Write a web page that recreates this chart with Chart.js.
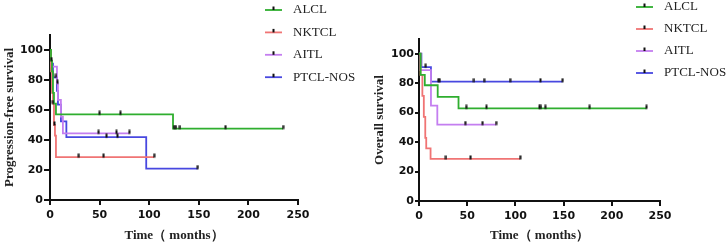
<!DOCTYPE html>
<html>
<head>
<meta charset="utf-8">
<script src="https://cdn.jsdelivr.net/npm/chart.js@4.4.1/dist/chart.umd.min.js"></script>
<style>
  html, body { margin: 0; padding: 0; background: #fff; }
  #wrap { position: relative; width: 728px; height: 245px; }
  canvas { position: absolute; top: 0; }
</style>
</head>
<body>
<div id="wrap">
  <canvas id="pfs" width="364" height="245" style="left:0"></canvas>
  <canvas id="os" width="364" height="245" style="left:364px"></canvas>
</div>
<script>
// groups and colours
const groups = ['ALCL', 'NKTCL', 'AITL', 'PTCL-NOS'];
const colors = ['#2fae2f', '#f07474', '#c47ef0', '#4848e0'];

const xTicks = [0, 50, 100, 150, 200, 250];
const yTicks = [0, 20, 40, 60, 80, 100];

// progression-free survival: event times (months), survival (%), censored times
const pfsAlclT = [0, 1, 2, 3, 4, 6, 124, 235];
const pfsAlclS = [100, 92.9, 85.7, 71.4, 64.3, 57.1, 47.6, 47.6];
const pfsAlclC = [1.5, 50, 71, 125, 127, 131, 177, 235];

const pfsNkT = [0, 1, 2, 3, 4, 5, 6, 105];
const pfsNkS = [100, 85.7, 71.4, 64.3, 50, 42.9, 28.6, 28.6];
const pfsNkC = [3, 4.5, 29, 54, 105];

const pfsAitlT = [0, 1, 7, 8, 11, 13, 80];
const pfsAitlS = [100, 88.9, 77.8, 66.7, 55.6, 44.4, 44.4];
const pfsAitlC = [7.5, 49, 67, 80];

const pfsNosT = [0, 1, 3, 7, 8, 11, 16.5, 97, 149];
const pfsNosS = [100, 90.9, 81.8, 72.7, 63.6, 52.4, 41.9, 20.9, 20.9];
const pfsNosC = [6, 57, 68, 149];

// overall survival
const osAlclT = [0, 1.7, 6, 19.4, 41, 236];
const osAlclS = [100, 85.7, 78.6, 70.7, 62.9, 62.9];
const osAlclC = [49, 70, 125, 126.5, 131, 177, 236];

const osNkT = [0, 1.5, 3.5, 5, 6.5, 7.5, 12, 105];
const osNkS = [100, 85.7, 71.4, 57.1, 42.9, 35.7, 28.6, 28.6];
const osNkC = [28, 53.5, 105];

const osAitlT = [0, 1.5, 12.4, 19, 80];
const osAitlS = [100, 88.9, 64.8, 51.9, 51.9];
const osAitlC = [48, 66, 80];

const osNosT = [0, 2.5, 12.4, 149];
const osNosS = [100, 90.9, 81, 81];
const osNosC = [7, 20, 21.5, 57, 67.5, 94.5, 126, 149];

function survAt(t, T, S) {
  let v = S[0];
  for (let i = 0; i < T.length; i++) if (T[i] <= t) v = S[i];
  return v;
}

// censor mark: small black tick sitting on top of the line
const tick = document.createElement('canvas');
tick.width = 3;
tick.height = 8;
(function() {
  const c = tick.getContext('2d');
  c.fillStyle = '#111';
  c.fillRect(0.5, 0.5, 2, 4);
})();

function buildDatasets(series) {
  const curves = series.map((s, i) => ({
    label: groups[i],
    data: s.T.map((t, k) => ({ x: t, y: s.S[k] })),
    borderColor: colors[i],
    borderWidth: 1.8,
    stepped: true,
    pointRadius: 0,
    fill: false,
    order: 2
  }));
  const marks = series.map((s, i) => ({
    label: groups[i] + ' censored',
    data: s.C.map(t => ({ x: t, y: survAt(t, s.T, s.S) })),
    showLine: false,
    pointStyle: tick,
    pointRadius: 3,
    order: 1
  }));
  return curves.concat(marks);
}

const kmLegend = {
  id: 'kmLegend',
  afterDraw(chart, args, o) {
    const ctx = chart.ctx;
    ctx.save();
    ctx.font = '13px "Liberation Serif"';
    ctx.textBaseline = 'middle';
    groups.forEach((g, i) => {
      const y = o.y + i * o.gap;
      ctx.strokeStyle = colors[i];
      ctx.lineWidth = 1.8;
      ctx.beginPath();
      ctx.moveTo(o.x, y);
      ctx.lineTo(o.x + 17, y);
      ctx.stroke();
      ctx.fillStyle = '#111';
      ctx.fillRect(o.x + 7.5, y - 3.5, 2, 3.5);
      ctx.fillStyle = '#222';
      ctx.fillText(g, o.x + 28, y);
    });
    ctx.restore();
  }
};

function makeChart(id, series, yTitle, box) {
  new Chart(document.getElementById(id), {
    type: 'line',
    data: { datasets: buildDatasets(series) },
    plugins: [kmLegend],
    options: {
      responsive: false,
      animation: false,
      devicePixelRatio: 1,
      layout: { padding: { left: 0, right: box.right, top: box.top, bottom: 0 } },
      plugins: {
        legend: { display: false },
        tooltip: { enabled: false },
        kmLegend: box.legend
      },
      scales: {
        x: {
          type: 'linear',
          min: 0, max: 250,
          afterBuildTicks: s => { s.ticks = xTicks.map(v => ({ value: v })); },
          afterFit: s => { s.height = box.xh; },
          grid: { drawOnChartArea: false, drawTicks: true, tickLength: 5, color: '#111', lineWidth: 2 },
          border: { display: true, color: '#111', width: 2 },
          ticks: { color: '#111', padding: 4, maxRotation: 0, font: { family: 'DejaVu Sans', size: 11, weight: 'bold' } },
          title: {
            display: true, text: 'Time（ months）', color: '#222',
            font: { family: 'Liberation Serif', size: 13, weight: 'bold' },
            padding: { top: 0, bottom: 2 }
          }
        },
        y: {
          min: 0, max: 110,
          afterBuildTicks: s => { s.ticks = yTicks.map(v => ({ value: v })); },
          afterFit: s => { s.width = box.yw; },
          grid: { drawOnChartArea: false, drawTicks: true, tickLength: box.tl, color: '#111', lineWidth: 2 },
          border: { display: true, color: '#111', width: 2 },
          ticks: { color: '#111', padding: 1, font: { family: 'DejaVu Sans', size: 11, weight: 'bold' } },
          title: {
            display: true, text: yTitle, color: '#222',
            font: { family: 'Liberation Serif', size: 13, weight: 'bold' },
            padding: { top: box.tp, bottom: 0 }
          }
        }
      }
    }
  });
}

makeChart('pfs', [
  { T: pfsAlclT, S: pfsAlclS, C: pfsAlclC },
  { T: pfsNkT, S: pfsNkS, C: pfsNkC },
  { T: pfsAitlT, S: pfsAitlS, C: pfsAitlC },
  { T: pfsNosT, S: pfsNosS, C: pfsNosC }
], 'Progression-free survival',
  { right: 66, top: 35, xh: 45, yw: 50, tl: 6, tp: 2, legend: { x: 265, y: 10, gap: 22.4 } });

makeChart('os', [
  { T: osAlclT, S: osAlclS, C: osAlclC },
  { T: osNkT, S: osNkS, C: osNkC },
  { T: osAitlT, S: osAitlS, C: osAitlC },
  { T: osNosT, S: osNosS, C: osNosC }
], 'Overall survival',
  { right: 68, top: 39, xh: 44, yw: 55, tl: 4, tp: 8, legend: { x: 272, y: 7, gap: 22 } });
</script>
</body>
</html>
